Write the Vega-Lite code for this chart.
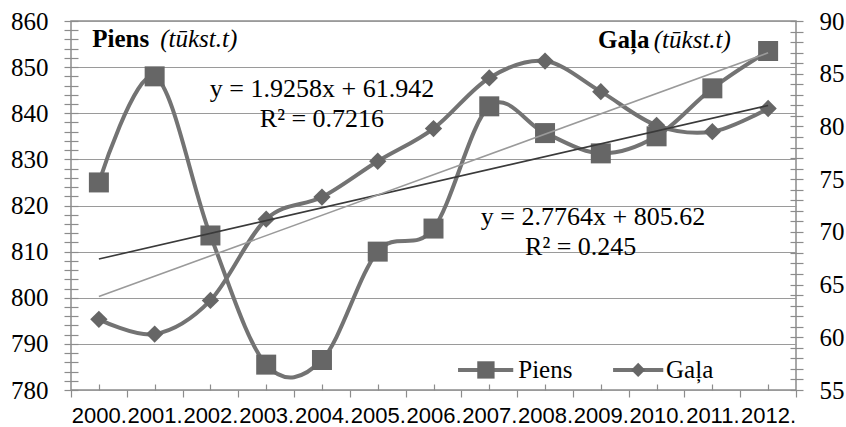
{
  "$schema": "https://vega.github.io/schema/vega-lite/v6.json",
  "width": 725,
  "height": 369,
  "autosize": {"type": "none"},
  "padding": {"left": 71, "top": 21, "right": 50, "bottom": 37},
  "background": "white",
  "config": {
    "font": "Liberation Serif",
    "view": {"stroke": "#8c8c8c", "strokeWidth": 1.5},
    "axis": {"labelFont": "Liberation Serif", "labelColor": "#000000", "tickColor": "#8c8c8c", "tickWidth": 1.2, "domain": false, "labelFontSize": 24}
  },
  "datasets": {
    "main": [
      {"year": 2000, "piens": 825, "gala": 61.7},
      {"year": 2001, "piens": 848, "gala": 60.3},
      {"year": 2002, "piens": 813.5, "gala": 63.5},
      {"year": 2003, "piens": 785.5, "gala": 71.2},
      {"year": 2004, "piens": 786.5, "gala": 73.3},
      {"year": 2005, "piens": 810, "gala": 76.7},
      {"year": 2006, "piens": 815, "gala": 79.8},
      {"year": 2007, "piens": 841.5, "gala": 84.6},
      {"year": 2008, "piens": 835.7, "gala": 86.2},
      {"year": 2009, "piens": 831.3, "gala": 83.3},
      {"year": 2010, "piens": 835, "gala": 80.1},
      {"year": 2011, "piens": 845.4, "gala": 79.5},
      {"year": 2012, "piens": 853.5, "gala": 81.7}
    ],
    "trend": [
      {"year": 2000, "piens": 808.4, "gala": 63.87},
      {"year": 2012, "piens": 841.7, "gala": 86.98}
    ],
    "one": [{}]
  },
  "layer": [
    {
      "data": {"name": "main"},
      "mark": {"type": "line", "interpolate": "cardinal", "color": "#737373", "strokeWidth": 4},
      "encoding": {
        "x": {
          "field": "year",
          "type": "quantitative",
          "scale": {"domain": [1999.5, 2012.5], "nice": false, "zero": false},
          "axis": {
            "orient": "bottom",
            "title": null,
            "grid": false,
            "values": [2000, 2001, 2002, 2003, 2004, 2005, 2006, 2007, 2008, 2009, 2010, 2011, 2012],
            "format": "d",
            "labelExpr": "datum.label + '.'",
            "labelFont": "Liberation Sans",
            "labelFontSize": 22,
            "labelOverlap": false,
            "labelFlush": false,
            "offset": -6,
            "tickSize": 6,
            "labelPadding": 15
          }
        },
        "y": {
          "field": "piens",
          "type": "quantitative",
          "scale": {"domain": [780, 860], "nice": false, "zero": false},
          "axis": {
            "orient": "left",
            "title": null,
            "values": [780, 782, 784, 786, 788, 790, 792, 794, 796, 798, 800, 802, 804, 806, 808, 810, 812, 814, 816, 818, 820, 822, 824, 826, 828, 830, 832, 834, 836, 838, 840, 842, 844, 846, 848, 850, 852, 854, 856, 858, 860],
            "labelExpr": "datum.value % 10 === 0 ? datum.label : ''",
            "grid": true,
            "gridColor": "#9a9a9a",
            "gridWidth": 1.2,
            "gridOpacity": {"condition": {"test": "datum.value % 10 === 0", "value": 1}, "value": 0},
            "offset": -7,
            "tickSize": 14,
            "labelPadding": 16,
            "labelFontSize": 25
          }
        }
      }
    },
    {
      "data": {"name": "main"},
      "mark": {"type": "line", "interpolate": "cardinal", "color": "#737373", "strokeWidth": 4},
      "encoding": {
        "x": {
          "field": "year",
          "type": "quantitative",
          "axis": {
            "orient": "bottom",
            "title": null,
            "grid": false,
            "labels": false,
            "values": [1999.5, 2000.5, 2001.5, 2002.5, 2003.5, 2004.5, 2005.5, 2006.5, 2007.5, 2008.5, 2009.5, 2010.5, 2011.5, 2012.5],
            "tickSize": 7
          }
        },
        "y": {
          "field": "gala",
          "type": "quantitative",
          "scale": {"domain": [55, 90], "nice": false, "zero": false},
          "axis": {
            "orient": "right",
            "title": null,
            "values": [55, 56, 57, 58, 59, 60, 61, 62, 63, 64, 65, 66, 67, 68, 69, 70, 71, 72, 73, 74, 75, 76, 77, 78, 79, 80, 81, 82, 83, 84, 85, 86, 87, 88, 89, 90],
            "labelExpr": "datum.value % 5 === 0 ? datum.label : ''",
            "grid": false,
            "offset": -6,
            "tickSize": 13,
            "labelPadding": 16,
            "labelFontSize": 25
          }
        }
      }
    },
    {
      "data": {"name": "main"},
      "mark": {"type": "point", "shape": "square", "filled": true, "color": "#666666", "opacity": 1, "size": 400},
      "encoding": {
        "x": {"field": "year", "type": "quantitative", "axis": null},
        "y": {"field": "piens", "type": "quantitative", "scale": {"domain": [780, 860], "nice": false, "zero": false}, "axis": null}
      }
    },
    {
      "data": {"name": "main"},
      "mark": {"type": "point", "shape": "diamond", "filled": true, "color": "#666666", "opacity": 1, "size": 300},
      "encoding": {
        "x": {"field": "year", "type": "quantitative", "axis": null},
        "y": {"field": "gala", "type": "quantitative", "scale": {"domain": [55, 90], "nice": false, "zero": false}, "axis": null}
      }
    },
    {
      "data": {"name": "trend"},
      "mark": {"type": "line", "color": "#3a3a3a", "strokeWidth": 1.6},
      "encoding": {
        "x": {"field": "year", "type": "quantitative", "axis": null},
        "y": {"field": "piens", "type": "quantitative", "scale": {"domain": [780, 860], "nice": false, "zero": false}, "axis": null}
      }
    },
    {
      "data": {"name": "trend"},
      "mark": {"type": "line", "color": "#9a9a9a", "strokeWidth": 1.6},
      "encoding": {
        "x": {"field": "year", "type": "quantitative", "axis": null},
        "y": {"field": "gala", "type": "quantitative", "scale": {"domain": [55, 90], "nice": false, "zero": false}, "axis": null}
      }
    },
    {
      "data": {"name": "one"},
      "mark": {"type": "rule", "color": "#737373", "strokeWidth": 4},
      "encoding": {
        "x": {"datum": 2006.44, "type": "quantitative", "axis": null},
        "x2": {"datum": 2007.43},
        "y": {"datum": 784.35, "type": "quantitative", "scale": {"domain": [780, 860], "nice": false, "zero": false}, "axis": null}
      }
    },
    {
      "data": {"name": "one"},
      "mark": {"type": "point", "shape": "square", "filled": true, "color": "#666666", "opacity": 1, "size": 300},
      "encoding": {
        "x": {"datum": 2006.94, "type": "quantitative", "axis": null},
        "y": {"datum": 784.35, "type": "quantitative", "scale": {"domain": [780, 860], "nice": false, "zero": false}, "axis": null}
      }
    },
    {
      "data": {"name": "one"},
      "mark": {"type": "text", "align": "left", "baseline": "middle", "fontSize": 25, "color": "#000000"},
      "encoding": {
        "x": {"datum": 2007.52, "type": "quantitative", "axis": null},
        "y": {"datum": 784.35, "type": "quantitative", "scale": {"domain": [780, 860], "nice": false, "zero": false}, "axis": null},
        "text": {"value": "Piens"}
      }
    },
    {
      "data": {"name": "one"},
      "mark": {"type": "rule", "color": "#737373", "strokeWidth": 4},
      "encoding": {
        "x": {"datum": 2009.22, "type": "quantitative", "axis": null},
        "x2": {"datum": 2010.12},
        "y": {"datum": 784.35, "type": "quantitative", "scale": {"domain": [780, 860], "nice": false, "zero": false}, "axis": null}
      }
    },
    {
      "data": {"name": "one"},
      "mark": {"type": "point", "shape": "diamond", "filled": true, "color": "#666666", "opacity": 1, "size": 200},
      "encoding": {
        "x": {"datum": 2009.67, "type": "quantitative", "axis": null},
        "y": {"datum": 784.35, "type": "quantitative", "scale": {"domain": [780, 860], "nice": false, "zero": false}, "axis": null}
      }
    },
    {
      "data": {"name": "one"},
      "mark": {"type": "text", "align": "left", "baseline": "middle", "fontSize": 25, "color": "#000000"},
      "encoding": {
        "x": {"datum": 2010.17, "type": "quantitative", "axis": null},
        "y": {"datum": 784.35, "type": "quantitative", "scale": {"domain": [780, 860], "nice": false, "zero": false}, "axis": null},
        "text": {"value": "Gaļa"}
      }
    },
    {
      "data": {"name": "one"},
      "mark": {"type": "text", "align": "left", "baseline": "alphabetic", "fontSize": 25, "fontWeight": "bold", "color": "#000000"},
      "encoding": {
        "x": {"datum": 1999.88, "type": "quantitative", "axis": null},
        "y": {"datum": 854.4, "type": "quantitative", "scale": {"domain": [780, 860], "nice": false, "zero": false}, "axis": null},
        "text": {"value": "Piens"}
      }
    },
    {
      "data": {"name": "one"},
      "mark": {"type": "text", "align": "left", "baseline": "alphabetic", "fontSize": 25, "fontStyle": "italic", "color": "#000000"},
      "encoding": {
        "x": {"datum": 2001.1, "type": "quantitative", "axis": null},
        "y": {"datum": 854.4, "type": "quantitative", "scale": {"domain": [780, 860], "nice": false, "zero": false}, "axis": null},
        "text": {"value": "(tūkst.t)"}
      }
    },
    {
      "data": {"name": "one"},
      "mark": {"type": "text", "align": "left", "baseline": "alphabetic", "fontSize": 25, "fontWeight": "bold", "color": "#000000"},
      "encoding": {
        "x": {"datum": 2008.95, "type": "quantitative", "axis": null},
        "y": {"datum": 854.1, "type": "quantitative", "scale": {"domain": [780, 860], "nice": false, "zero": false}, "axis": null},
        "text": {"value": "Gaļa"}
      }
    },
    {
      "data": {"name": "one"},
      "mark": {"type": "text", "align": "left", "baseline": "alphabetic", "fontSize": 25, "fontStyle": "italic", "color": "#000000"},
      "encoding": {
        "x": {"datum": 2009.95, "type": "quantitative", "axis": null},
        "y": {"datum": 854.1, "type": "quantitative", "scale": {"domain": [780, 860], "nice": false, "zero": false}, "axis": null},
        "text": {"value": "(tūkst.t)"}
      }
    },
    {
      "data": {"name": "one"},
      "mark": {"type": "text", "align": "center", "baseline": "alphabetic", "fontSize": 26, "color": "#000000"},
      "encoding": {
        "x": {"datum": 2004, "type": "quantitative", "axis": null},
        "y": {"datum": 843.5, "type": "quantitative", "scale": {"domain": [780, 860], "nice": false, "zero": false}, "axis": null},
        "text": {"value": "y = 1.9258x + 61.942"}
      }
    },
    {
      "data": {"name": "one"},
      "mark": {"type": "text", "align": "center", "baseline": "alphabetic", "fontSize": 26, "color": "#000000"},
      "encoding": {
        "x": {"datum": 2004, "type": "quantitative", "axis": null},
        "y": {"datum": 837.0, "type": "quantitative", "scale": {"domain": [780, 860], "nice": false, "zero": false}, "axis": null},
        "text": {"value": "R² = 0.7216"}
      }
    },
    {
      "data": {"name": "one"},
      "mark": {"type": "text", "align": "center", "baseline": "alphabetic", "fontSize": 26, "color": "#000000"},
      "encoding": {
        "x": {"datum": 2008.86, "type": "quantitative", "axis": null},
        "y": {"datum": 815.75, "type": "quantitative", "scale": {"domain": [780, 860], "nice": false, "zero": false}, "axis": null},
        "text": {"value": "y = 2.7764x + 805.62"}
      }
    },
    {
      "data": {"name": "one"},
      "mark": {"type": "text", "align": "center", "baseline": "alphabetic", "fontSize": 26, "color": "#000000"},
      "encoding": {
        "x": {"datum": 2008.64, "type": "quantitative", "axis": null},
        "y": {"datum": 809.2, "type": "quantitative", "scale": {"domain": [780, 860], "nice": false, "zero": false}, "axis": null},
        "text": {"value": "R² = 0.245"}
      }
    }
  ],
  "resolve": {"scale": {"y": "independent"}, "axis": {"x": "independent"}}
}
